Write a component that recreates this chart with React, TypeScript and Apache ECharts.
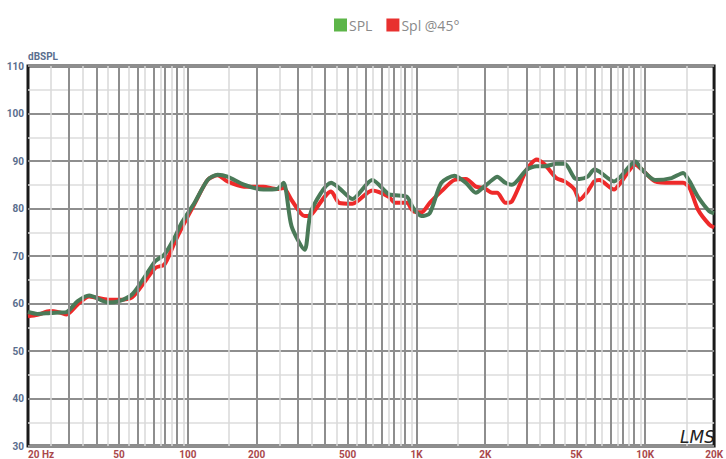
import React, { useEffect, useRef } from "react";
import * as echarts from "echarts";

const FREQS = [20, 22, 25, 27.5, 29.5, 33, 37, 45, 50, 57, 65, 72, 79, 88, 94, 107, 122, 135, 149, 176, 214, 245, 262, 284, 324, 346, 423, 459, 524, 640, 755, 806, 906, 967, 1051, 1142, 1283, 1464, 1645, 1816, 1973, 2141, 2251, 2447, 2613, 3033, 3350, 3643, 4087, 4444, 4906, 5156, 5600, 5985, 6290, 7303, 7797, 9049, 9671, 11043, 13031, 14636, 15630, 16993, 19069, 20000];

const SPL = [58.2, 57.8, 58.0, 58.1, 58.2, 60.5, 61.7, 60.2, 60.5, 61.9, 65.7, 68.9, 70.3, 74.1, 77.0, 81.2, 86.0, 87.1, 86.7, 85.0, 84.0, 84.1, 85.4, 76.3, 71.3, 79.4, 85.4, 84.3, 82.0, 86.0, 83.0, 82.8, 82.5, 80.1, 78.4, 79.0, 85.4, 86.9, 85.4, 83.3, 84.6, 86.0, 86.7, 85.4, 85.0, 88.2, 88.9, 88.9, 89.4, 89.4, 86.4, 86.2, 86.7, 88.2, 87.8, 85.7, 86.7, 89.9, 88.2, 86.0, 86.4, 87.5, 85.7, 82.5, 79.4, 79.0];

const SPL45 = [57.3, 57.6, 58.4, 58.1, 57.7, 59.8, 61.5, 60.8, 60.8, 61.3, 64.7, 67.5, 68.2, 73.1, 75.9, 81.0, 86.0, 87.0, 85.7, 84.6, 84.6, 84.1, 84.3, 81.8, 78.4, 78.7, 83.6, 81.2, 81.0, 83.8, 82.5, 81.2, 81.2, 79.4, 79.2, 81.2, 83.6, 86.0, 86.2, 84.6, 84.3, 83.3, 83.3, 81.2, 81.5, 88.2, 90.3, 89.2, 86.4, 85.7, 84.0, 81.8, 83.6, 85.7, 86.0, 84.0, 85.4, 89.2, 88.2, 85.7, 85.4, 85.4, 84.3, 79.8, 76.6, 76.0];

const X_TICKS = [20, 50, 100, 200, 500, 1000, 2000, 5000, 10000, 20000];
const DECADES = [10, 100, 1000, 10000];
const MULTS_MAJOR = [1, 2, 3, 4, 5, 6, 7, 8, 9];
const MULTS_MINOR = [1.5, 2.5, 3.5, 4.5, 5.5, 6.5, 7.5, 8.5, 9.5];

const F_MIN = 20;
const F_MAX = 20000;

function fmtFreq(f: number): string {
  if (f === 20) return "20 Hz";
  if (f >= 1000) return f / 1000 + "K";
  return String(f);
}

export default function App() {
  const ref = useRef<HTMLDivElement>(null);
  useEffect(() => {
    if (!ref.current) return;
    const chart = echarts.init(ref.current, null, { renderer: "svg" });

    const gridLines: any[] = [];
    DECADES.forEach((d) => {
      MULTS_MINOR.forEach((m) => {
        const f = d * m;
        if (f > F_MIN && f < F_MAX)
          gridLines.push({ xAxis: Math.log10(f), lineStyle: { color: "#d9d9d9", width: 1.5, type: "solid" } });
      });
    });
    DECADES.forEach((d) => {
      MULTS_MAJOR.forEach((m) => {
        const f = d * m;
        if (f > F_MIN && f < F_MAX)
          gridLines.push({ xAxis: Math.log10(f), lineStyle: { color: "#8e8e8e", width: 2, type: "solid" } });
      });
    });

    const toData = (vals: number[]) => FREQS.map((f, i) => [Math.log10(f), vals[i]]);

    chart.setOption({
      animation: false,
      backgroundColor: "#ffffff",
      legend: {
        top: 13,
        left: 329,
        icon: "rect",
        itemWidth: 13,
        itemHeight: 13,
        itemGap: 14,
        textStyle: { color: "#8a8a8a", fontSize: 14, fontFamily: "Open Sans", padding: [0, 0, 0, -3] },
        data: [
          { name: "SPL", itemStyle: { color: "#5db548" } },
          { name: "Spl @45°", itemStyle: { color: "#e8302f" } },
        ],
      },
      grid: {
        left: 28,
        right: 3,
        top: 66,
        bottom: 12,
        show: true,
        borderColor: "#1a1a1a",
        borderWidth: 3,
        backgroundColor: "#ffffff",
      },
      xAxis: {
        type: "value",
        min: Math.log10(F_MIN),
        max: Math.log10(F_MAX),
        splitLine: { show: false },
        axisLine: { show: false },
        axisTick: { show: false },
        axisLabel: {
          customValues: X_TICKS.map((f) => Math.log10(f)),
          formatter: (v: number) => fmtFreq(Math.round(Math.pow(10, v))),
          color: "#a9484c",
          fontWeight: "bold",
          fontSize: 10,
          fontFamily: "Roboto",
          margin: 3,
          showMinLabel: true,
          showMaxLabel: true,
          alignMinLabel: "left",
          hideOverlap: false,
        },
      },
      yAxis: {
        type: "value",
        min: 30,
        max: 110,
        interval: 10,
        name: "dBSPL",
        nameLocation: "end",
        nameGap: 4,
        nameTextStyle: { color: "#5a6e8e", fontWeight: "bold", fontSize: 10, fontFamily: "Roboto", align: "left" },
        axisLine: { show: false },
        axisTick: { show: false },
        axisLabel: { color: "#5a6e8e", fontWeight: "bold", fontSize: 10, fontFamily: "Roboto", margin: 4 },
        splitLine: { show: true, lineStyle: { color: "#8e8e8e", width: 2 } },
        minorTick: { show: false, splitNumber: 2 },
        minorSplitLine: { show: true, lineStyle: { color: "#dcdcdc", width: 1.5 } },
      },
      graphic: [
        {
          type: "text",
          right: 11,
          bottom: 14,
          style: {
            text: "LMS",
            fontSize: 17,
            fontStyle: "italic",
            fontFamily: "DejaVu Sans",
            fontWeight: "lighter",
            fill: "#222222",
          },
          z: 100,
        },
      ],
      series: [
        {
          name: "grid",
          type: "line",
          data: [[Math.log10(F_MIN), 30]],
          symbol: "none",
          lineStyle: { opacity: 0 },
          silent: true,
          z: 1,
          markLine: {
            silent: true,
            symbol: "none",
            label: { show: false },
            animation: false,
            data: gridLines,
          },
        },
        {
          name: "Spl @45°",
          type: "line",
          data: toData(SPL45),
          symbol: "none",
          smooth: 0.25,
          color: "#e8302f",
          lineStyle: { color: "#ee2a2a", width: 4 },
          z: 3,
        },
        {
          name: "SPL",
          type: "line",
          data: toData(SPL),
          symbol: "none",
          smooth: 0.25,
          color: "#5db548",
          lineStyle: { color: "#4a7a58", width: 4 },
          z: 4,
        },
      ],
    });
    return () => chart.dispose();
  }, []);

  return (
    <div
      ref={ref}
      style={{ position: "fixed", left: 0, top: 0, width: 726, height: 459 }}
    />
  );
}
